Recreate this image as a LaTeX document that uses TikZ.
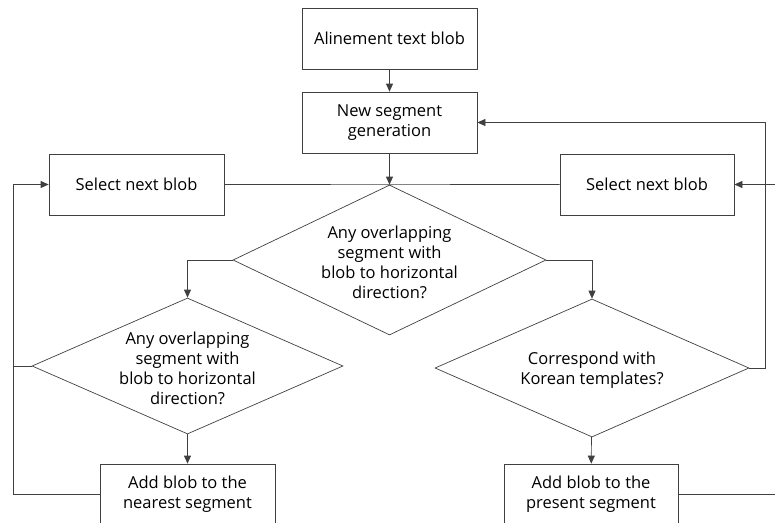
\documentclass[tikz,border=0pt]{standalone}
\usepackage{fontspec}
\setmainfont{Open Sans}
\usetikzlibrary{shapes.geometric,arrows.meta}
\begin{document}
\begin{tikzpicture}[x=1pt,y=-1pt,
    font=\fontsize{16.5}{20}\selectfont,
    line/.style={draw=black!75,line width=0.7pt},
    arr/.style={line,-{Triangle[length=8pt,width=7pt]}},
    blk/.style={draw=black!75,line width=0.7pt,rectangle,inner sep=0pt,minimum height=61pt,align=center},
    dec/.style={draw=black!75,line width=0.7pt,diamond,inner sep=0pt},
    txt/.style={label={[align=center,yshift=-2pt]center:{#1}}}]

    \clip (0,0) rectangle (775,522);

    \coordinate (L) at (13, 0);
    \coordinate (R) at (765, 0);
    \coordinate (RR) at (800, 0);

    \node[blk,minimum width=175pt] (ALIGN) at (389.5, 38.5) {Alinement text blob};
    \node[blk,minimum width=175pt] (NEWSEG) at (389.5, 122.5) {New segment\\generation};
    \node[blk,minimum width=175pt] (SELL) at (136.5, 184.5) {Select next blob};
    \node[blk,minimum width=174pt] (SELR) at (647, 184.5) {Select next blob};

    \node[dec,minimum width=313pt,minimum height=150pt,
        txt={Any overlapping\\segment with\\blob to horizontal\\direction?}] (ANY) at (389.5, 260) {};
    \node[dec,minimum width=311pt,minimum height=136pt,
        txt={Any overlapping\\segment with\\blob to horizontal\\direction?}] (ANYL) at (187.5, 366) {};
    \node[dec,minimum width=314pt,minimum height=138pt,
        txt={Correspond with\\Korean templates?}] (KOR) at (592, 368) {};

    \node[blk,minimum width=175pt] (ADDL) at (187.5, 494.5) {Add blob to the\\nearest segment};
    \node[blk,minimum width=174pt] (ADDR) at (591, 494.5) {Add blob to the\\present segment};

    \draw[arr] (ALIGN) -- (NEWSEG);
    \draw[arr] (NEWSEG) -- (ANY.north);
    \draw[line] (SELL.east) -- (ANY.north) -- (SELR.west);
    \draw[arr] (ANY.west) -| (ANYL.north);
    \draw[arr] (ANY.east) -| (KOR.north);
    \draw[arr] (ANYL) -- (ADDL);
    \draw[arr] (KOR) -- (ADDR);
    \draw[line] (ANYL.west) -- (ANYL.west -| L);
    \draw[arr] (ADDL.west) -- (ADDL.west -| L) |- (SELL.west);
    \draw[arr] (KOR.east) -- (KOR.east -| R) |- (NEWSEG.east);
    \draw[arr] (ADDR.east) -- (ADDR.east -| RR) |- (SELR.east);

\end{tikzpicture}
\end{document}
